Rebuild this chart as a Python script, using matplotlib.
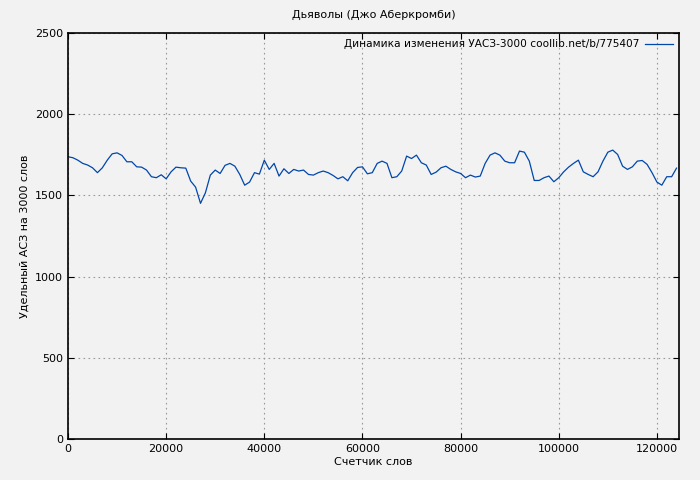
import numpy as np
import matplotlib
matplotlib.use('Agg')
import matplotlib.pyplot as plt

# words counter (thousands) and values
words = np.arange(0, 125) * 1000
values = [1738, 1732, 1717, 1697, 1687, 1670, 1640, 1670, 1717, 1756,
          1762, 1746, 1707, 1707, 1676, 1674, 1656, 1615, 1609, 1627,
          1602, 1645, 1674, 1670, 1668, 1588, 1551, 1451, 1516, 1625,
          1656, 1635, 1685, 1697, 1680, 1629, 1563, 1582, 1640, 1631,
          1717, 1660, 1697, 1619, 1664, 1635, 1660, 1650, 1656, 1629,
          1625, 1640, 1650, 1640, 1623, 1602, 1615, 1590, 1640, 1672,
          1676, 1633, 1640, 1697, 1711, 1697, 1609, 1615, 1650, 1742,
          1727, 1748, 1701, 1687, 1629, 1643, 1670, 1680, 1660, 1645,
          1635, 1609, 1625, 1613, 1619, 1697, 1748, 1762, 1748, 1711,
          1701, 1701, 1773, 1766, 1711, 1592, 1592, 1609, 1619, 1584,
          1609, 1645, 1674, 1697, 1717, 1645, 1629, 1615, 1645, 1711,
          1766, 1779, 1752, 1680, 1660, 1676, 1711, 1715, 1691, 1640,
          1582, 1563, 1615, 1615, 1668]
xticks = [0, 20000, 40000, 60000, 80000, 100000, 120000]
yticks = [0, 500, 1000, 1500, 2000, 2500]

bg = '#f2f2f2'
fig = plt.figure(figsize=(7, 4.8), dpi=100, facecolor=bg)
ax = fig.add_axes([68/700, 41/480, 611/700, 406/480], facecolor=bg)
ax.plot(words, values, color='#0047ab', lw=0.9, label='Динамика изменения УАСЗ-3000 coollib.net/b/775407')
ax.set_xlim(0, 124500)
ax.set_ylim(0, 2500)
ax.set_xticks(xticks)
ax.set_yticks(yticks)
ax.tick_params(direction='in', labelsize=8, length=4, top=True, right=True)
ax.grid(True, linestyle=(0, (1.5, 3)), color='#999999', lw=0.8)
for s in ax.spines.values():
    s.set_linewidth(1.2)
ax.set_title('Дьяволы (Джо Аберкромби)', fontsize=8, pad=11)
ax.set_xlabel('Счетчик слов', fontsize=8, labelpad=2)
ax.set_ylabel('Удельный АСЗ на 3000 слов', fontsize=8)
ax.legend(loc='upper right', fontsize=7.6, frameon=False, markerfirst=False,
          handlelength=2.6, handletextpad=0.6, borderaxespad=0.2)
fig.savefig('out.png', dpi=100, facecolor=bg)
